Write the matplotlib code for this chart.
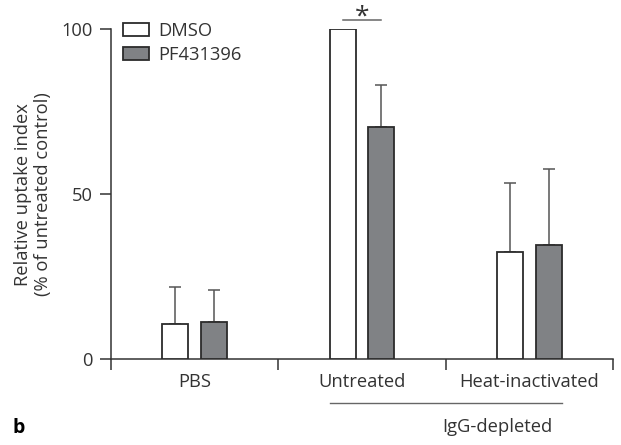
import matplotlib
matplotlib.use("Agg")
import matplotlib.pyplot as plt
import numpy as np

plt.rcParams['font.family'] = ['Open Sans', 'DejaVu Sans']

categories = ["PBS", "Untreated", "Heat-inactivated"]
series_names = ["DMSO", "PF431396"]
dmso_vals = [10.8, 100.0, 32.5]
dmso_err = [11.2, 0.0, 20.9]
pf_vals = [11.3, 70.5, 34.6]
pf_err = [9.7, 12.6, 23.0]
yticks = [0, 50, 100]

FS = 13.2
fig = plt.figure(figsize=(6.21, 4.45), dpi=100)
W, H = 621, 445
ax = fig.add_axes([111 / W, 1 - 359.3 / H, (613 - 111) / W, (359.3 - 29.3) / H])

x = np.arange(len(categories)) + 0.5
off = 0.115
bw = 0.155
edge = '#2b2b2b'
ecol = '#555555'
b1 = ax.bar(x - off, dmso_vals, bw, color='white', edgecolor=edge, linewidth=1.3, zorder=3,
            label=series_names[0])
b2 = ax.bar(x + off, pf_vals, bw, color='#808285', edgecolor=edge, linewidth=1.3, zorder=3,
            label=series_names[1])
for xs, v, e in [(x - off, dmso_vals, dmso_err), (x + off, pf_vals, pf_err)]:
    for xi, vi, ei in zip(xs, v, e):
        if ei > 0:
            ax.errorbar(xi, vi, yerr=[[0], [ei]], fmt='none', ecolor=ecol, elinewidth=1.1,
                        capsize=4.5, capthick=1.1, zorder=2)

ax.set_xlim(0, 3)
ax.set_ylim(0, 100)
for s in ['top', 'right']:
    ax.spines[s].set_visible(False)
for s in ['left', 'bottom']:
    ax.spines[s].set_color('#333333')
    ax.spines[s].set_linewidth(1.1)
ax.set_yticks(yticks)
ax.set_xticks([0, 1, 2, 3])
ax.set_xticklabels([])
ax.set_xticks(x, minor=True)
ax.set_xticklabels(categories, minor=True, fontsize=FS, color='#333333')
ax.tick_params(axis='x', which='minor', length=0, pad=10)
ax.tick_params(axis='x', which='major', length=8, width=1.1, color='#333333')
ax.tick_params(axis='y', length=8, width=1.1, color='#333333', pad=5, labelsize=FS,
               labelcolor='#333333')
ax.set_ylabel("Relative uptake index\n(% of untreated control)", fontsize=FS,
              color='#333333', labelpad=7, linespacing=1.1)

# significance
ax.plot([x[1] - off, x[1] + off], [102.8, 102.8], color='#666666', lw=1.1, clip_on=False)
ax.text(x[1], 101.6, "*", ha='center', va='baseline', fontsize=19, color='#333333')

# IgG-depleted bracket
trans = ax.get_xaxis_transform()
ax.plot([x[1] - off - bw / 2, x[2] + off + bw / 2], [-0.133, -0.133], transform=trans,
        color='#666666', lw=1.0, clip_on=False)
ax.text(x[2] - 0.19, -0.205, "IgG-depleted", transform=trans, ha='center', va='center',
        fontsize=FS, color='#333333')

fig.text(12 / W, 1 - 428 / H, "b", fontsize=14, fontweight='bold', va='center', ha='left')

ax.legend(handles=[b1, b2], loc='upper left', bbox_to_anchor=(0.01, 1.045), frameon=False,
          fontsize=FS, handlelength=1.4, handleheight=0.7, handletextpad=0.5,
          labelspacing=0.32, borderaxespad=0, labelcolor='#333333')

fig.savefig("out.png", dpi=100)
